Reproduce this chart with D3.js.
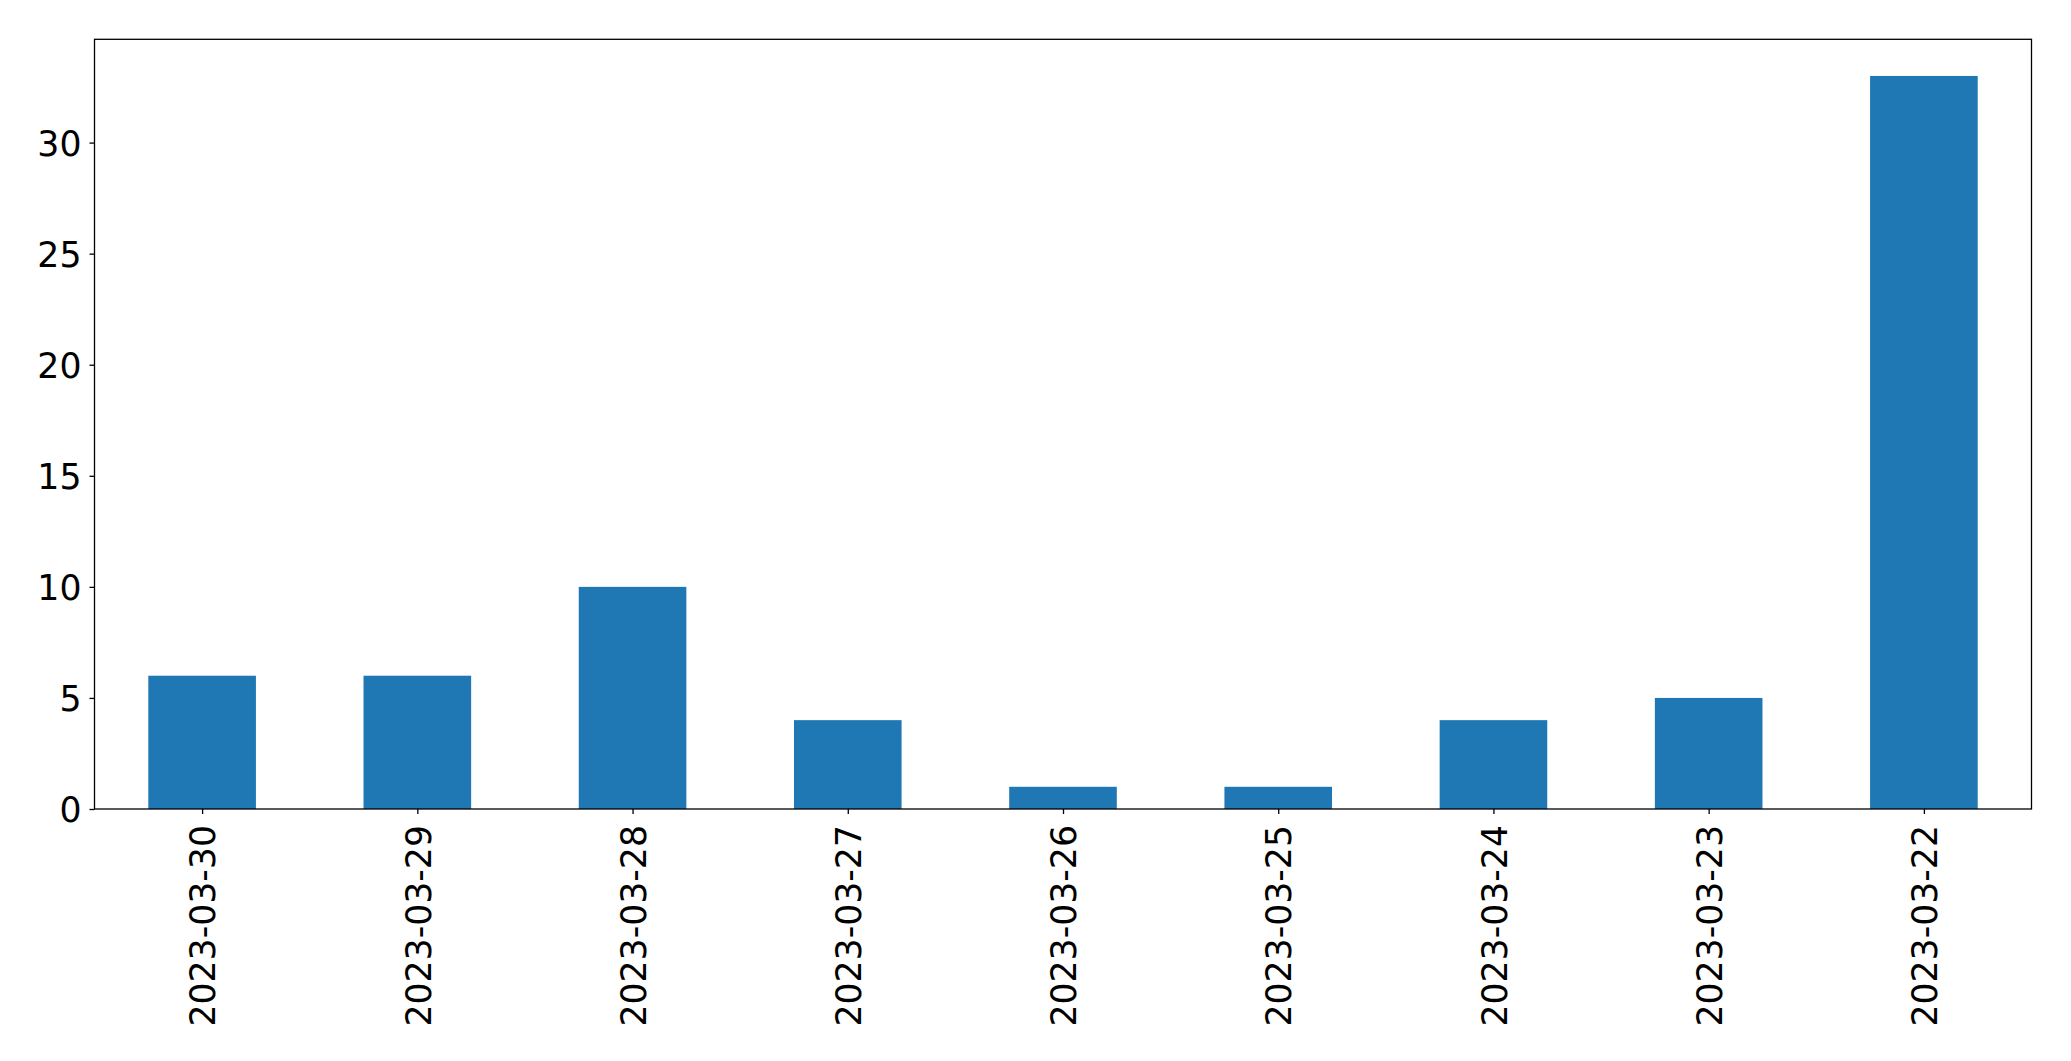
<!DOCTYPE html>
<html><head><meta charset="utf-8">
<script src="https://cdn.jsdelivr.net/npm/d3@7"></script>
<style>html,body{margin:0;padding:0;background:#fff;}svg{display:block;}</style>
</head><body>
<script>
const categories = ["2023-03-30","2023-03-29","2023-03-28","2023-03-27","2023-03-26","2023-03-25","2023-03-24","2023-03-23","2023-03-22"];
const values = [6,6,10,4,1,1,4,5,33];
const yTicks = [0,5,10,15,20,25,30];

(function () {
const W = 2071, H = 1061;
const mLeft = 94.5, mRight = 2031.5, mTop = 39.3, mBottom = 809;
const fontSize = 34.7;
const svg = d3.select("body").append("svg").attr("width", W).attr("height", H);

const x = d3.scaleLinear().domain([-0.5, categories.length - 0.5]).range([mLeft, mRight]);
const y = d3.scaleLinear().domain([0, d3.max(values) * 1.05]).range([mBottom, mTop]);

svg.append("g").selectAll("rect").data(values).join("rect")
  .attr("x", (d, i) => x(i - 0.25))
  .attr("width", (d, i) => x(i + 0.25) - x(i - 0.25))
  .attr("y", d => y(d))
  .attr("height", d => y(0) - y(d))
  .attr("fill", "#1f77b4");

// y axis
const ya = svg.append("g").attr("transform", `translate(${mLeft},0)`)
  .call(d3.axisLeft(y).tickValues(yTicks).tickSize(5).tickPadding(8).tickFormat(d3.format("d")));
ya.select(".domain").remove();
ya.selectAll("line").attr("stroke", "#000").attr("stroke-width", 1.3);
ya.selectAll("text").attr("font-family", "DejaVu Sans").attr("font-size", fontSize).attr("fill", "#000").attr("dy", "0.36em");

// x axis
const xa = svg.append("g").attr("transform", `translate(0,${mBottom})`)
  .call(d3.axisBottom(x).tickValues(d3.range(categories.length)).tickSize(5).tickFormat(i => categories[i]));
xa.select(".domain").remove();
xa.selectAll("line").attr("stroke", "#000").attr("stroke-width", 1.3);
xa.selectAll("text")
  .attr("font-family", "DejaVu Sans").attr("font-size", fontSize).attr("fill", "#000")
  .attr("text-anchor", "end")
  .attr("transform", "translate(0,16) rotate(-90)")
  .attr("x", 0).attr("y", 0).attr("dy", "0.365em");

// frame
svg.append("rect").attr("x", mLeft).attr("y", mTop).attr("width", mRight - mLeft).attr("height", mBottom - mTop)
  .attr("fill", "none").attr("stroke", "#000").attr("stroke-width", 1.3);
})();
</script>
</body></html>
